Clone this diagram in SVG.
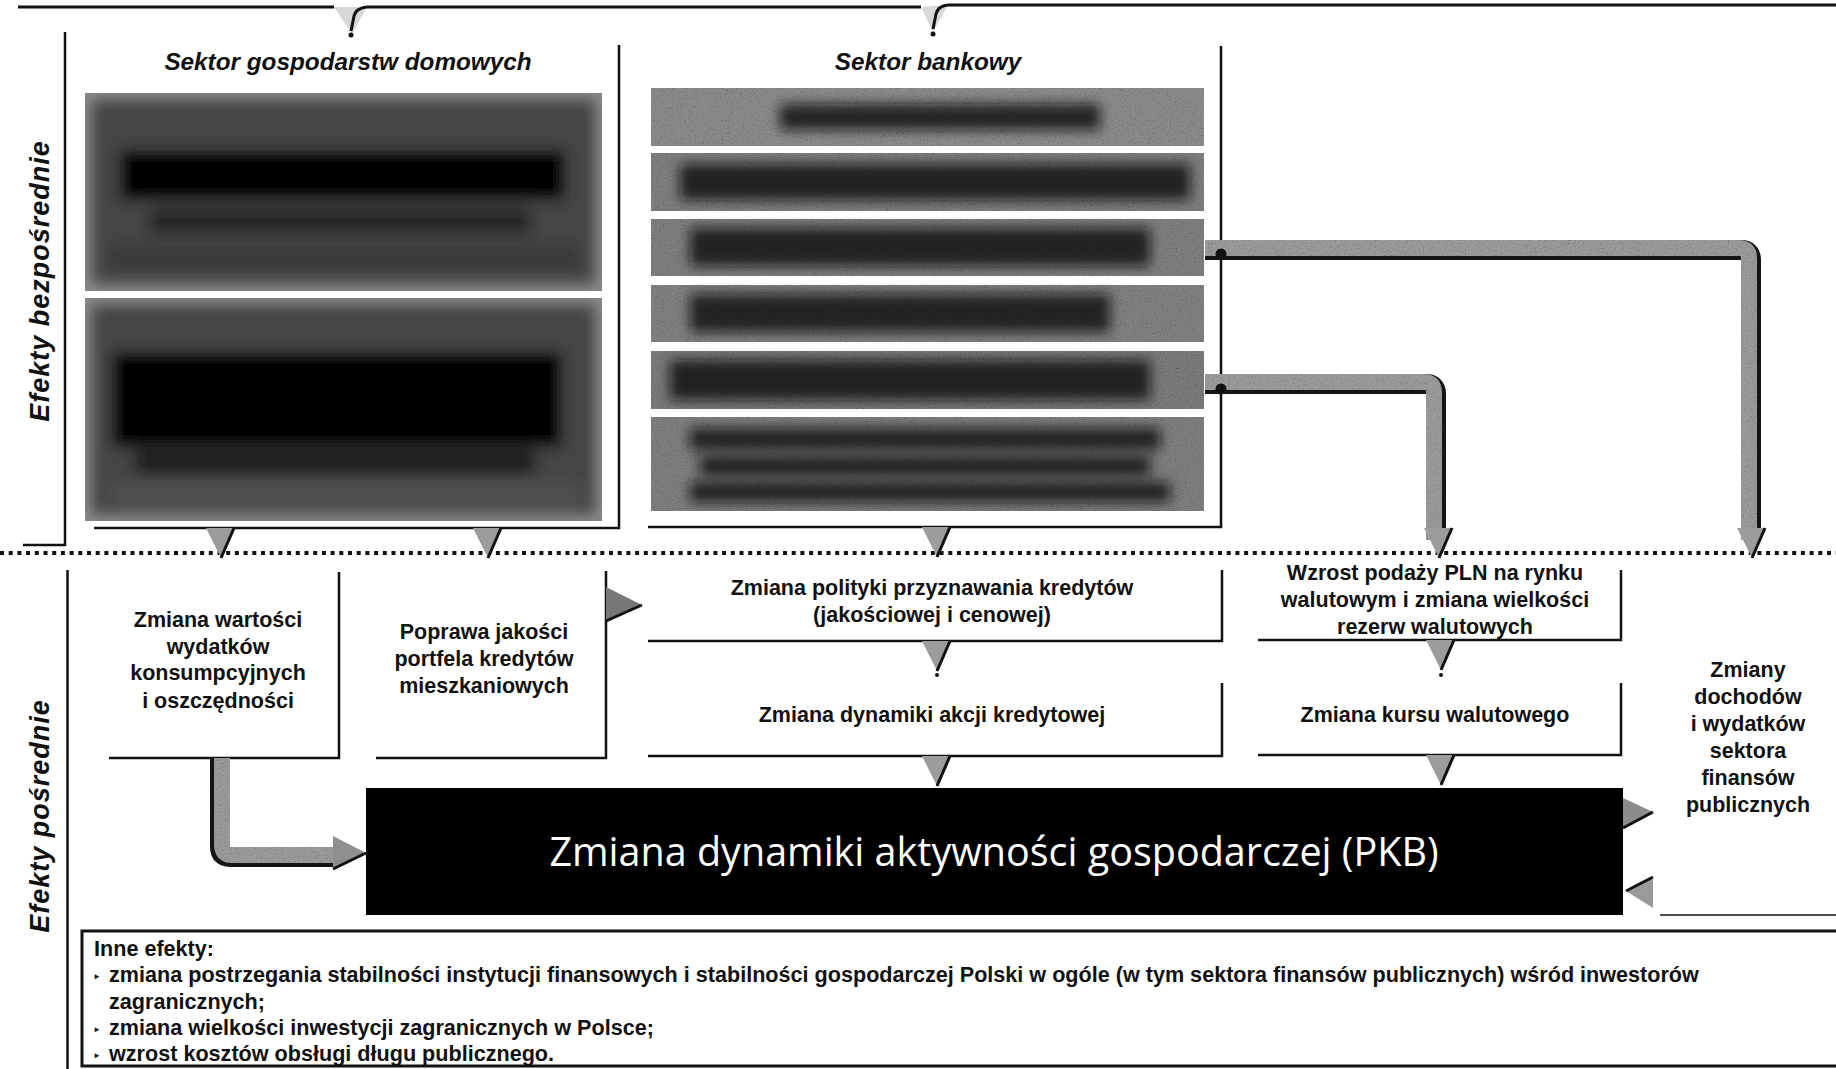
<svg xmlns="http://www.w3.org/2000/svg" width="1836" height="1069" viewBox="0 0 1836 1069">
<style>
  .ln{stroke:#111;fill:none;stroke-width:2.5}
  .lnt{stroke:#111;fill:none;stroke-width:3}
  .bx{font-family:"Liberation Sans",Arial,sans-serif;font-weight:bold;font-size:21.5px;fill:#111;text-anchor:middle}
  .ttl{font-family:"Liberation Sans",Arial,sans-serif;font-weight:bold;font-style:italic;font-size:24.3px;fill:#111;text-anchor:middle}
  .side{font-family:"Liberation Sans",Arial,sans-serif;font-weight:bold;font-style:italic;font-size:27px;fill:#111;text-anchor:middle;letter-spacing:1px}
  .pkb{font-family:"Open Sans","Noto Sans",sans-serif;font-size:39.5px;fill:#fff;text-anchor:middle}
  .inne{font-family:"Liberation Sans",Arial,sans-serif;font-weight:bold;font-size:21.6px;fill:#111}
  .cshadow{stroke:#151515;stroke-width:20;fill:none}
  .cfill{stroke:#9a9a9a;stroke-width:16;fill:none}
  .arrfill{fill:#9c9c9c}
  .arredge{stroke:#111;stroke-width:3;fill:none}
</style>
<defs>
  <filter id="blur" x="-20%" y="-50%" width="140%" height="200%">
    <feGaussianBlur stdDeviation="7"/>
  </filter>
  <filter id="blur2" x="-20%" y="-50%" width="140%" height="200%">
    <feGaussianBlur stdDeviation="6"/>
  </filter>
  <filter id="grain" filterUnits="userSpaceOnUse" x="0" y="0" width="1836" height="1069">
    <feTurbulence type="fractalNoise" baseFrequency="0.6" numOctaves="2" seed="7" result="noise"/>
    <feColorMatrix in="noise" type="saturate" values="0" result="gn"/>
    <feComponentTransfer in="gn" result="gc">
      <feFuncR type="linear" slope="2.2" intercept="-0.15"/>
      <feFuncG type="linear" slope="2.2" intercept="-0.15"/>
      <feFuncB type="linear" slope="2.2" intercept="-0.15"/>
    </feComponentTransfer>
    <feBlend in="SourceGraphic" in2="gc" mode="multiply" result="m"/>
    <feComposite in="m" in2="SourceGraphic" operator="in"/>
  </filter>
  <g id="ad">
    <path d="M-14,0 H14 L1,30 Z" class="arrfill"/>
    <path d="M14,0 L1,30" class="arredge"/>
  </g>
  <clipPath id="hh1"><rect x="85" y="93" width="517" height="198"/></clipPath>
  <clipPath id="hh2"><rect x="85" y="298" width="517" height="223"/></clipPath>
  <clipPath id="bk"><rect x="651" y="88" width="553" height="423"/></clipPath>
</defs>

<rect width="1836" height="1069" fill="#fff"/>

<!-- frame lines -->
<g id="frame">
  <path d="M18,7 H334 M367,7 H921 M948,5 H1836" class="lnt"/>
  <path d="M334,7 L367,7 L352,34 Z" fill="#d8d8d8"/>
  <path d="M367,7 Q356,8 354,16 L351,31" class="lnt"/>
  <circle cx="351" cy="35" r="2.5" fill="#111"/>
  <path d="M921,7 L948,5 L933,32 Z" fill="#d8d8d8"/>
  <path d="M948,5 Q938,6 936,14 L933,29" class="lnt"/>
  <circle cx="933" cy="34" r="2.5" fill="#111"/>
  <path d="M65,32 V545 H23" class="ln"/>
  <path d="M67.5,570 V1069" class="ln"/>
  <line x1="0" y1="553" x2="1836" y2="553" stroke="#111" stroke-width="4" stroke-dasharray="4 4.7"/>
  <text class="side" transform="translate(49,281) rotate(-90)">Efekty bezpośrednie</text>
  <text class="side" transform="translate(49,816) rotate(-90)">Efekty pośrednie</text>
</g>

<!-- Household sector -->
<g id="household">
  <text class="ttl" x="348" y="70">Sektor gospodarstw domowych</text>
  <path d="M619,45 V528 H94" class="ln"/>
  <g clip-path="url(#hh1)">
    <rect x="85" y="93" width="517" height="198" fill="#8a8a8a"/>
    <g filter="url(#blur)">
      <rect x="92" y="100" width="503" height="184" fill="#454545"/>
      <rect x="120" y="150" width="445" height="50" fill="#050505"/>
      <rect x="150" y="208" width="380" height="26" fill="#252525"/>
      <rect x="110" y="245" width="470" height="25" fill="#3a3a3a"/>
    </g>
  </g>
  <g clip-path="url(#hh2)">
    <rect x="85" y="298" width="517" height="223" fill="#8a8a8a"/>
    <g filter="url(#blur)">
      <rect x="92" y="305" width="503" height="209" fill="#454545"/>
      <rect x="112" y="352" width="450" height="95" fill="#050505"/>
      <rect x="135" y="450" width="400" height="24" fill="#1a1a1a"/>
      <rect x="110" y="482" width="470" height="25" fill="#505050"/>
    </g>
  </g>
</g>

<!-- Bank sector -->
<g id="bank">
  <text class="ttl" x="928" y="70">Sektor bankowy</text>
  <path d="M1221,46 V527 H648" class="ln"/>
  <g clip-path="url(#bk)">
    <g filter="url(#grain)">
      <rect x="651" y="88" width="553" height="58" fill="#8a8a8a"/>
      <rect x="651" y="153" width="553" height="58" fill="#7e7e7e"/>
      <rect x="651" y="219" width="553" height="57" fill="#7e7e7e"/>
      <rect x="651" y="285" width="553" height="57" fill="#808080"/>
      <rect x="651" y="351" width="553" height="58" fill="#7a7a7a"/>
      <rect x="651" y="417" width="553" height="94" fill="#7e7e7e"/>
    </g>
    <g filter="url(#blur2)" fill="#111" opacity="0.8">
      <rect x="780" y="104" width="320" height="26"/>
      <rect x="680" y="164" width="510" height="36"/>
      <rect x="690" y="228" width="460" height="38"/>
      <rect x="690" y="294" width="420" height="38"/>
      <rect x="670" y="360" width="480" height="40"/>
      <rect x="690" y="428" width="470" height="22"/>
      <rect x="700" y="456" width="450" height="20"/>
      <rect x="690" y="482" width="480" height="20"/>
    </g>
  </g>
</g>

<!-- Intermediate boxes -->
<g id="box-konsumpcja">
  <path d="M339,572 V758 H109" class="ln"/>
  <text class="bx" x="218" y="627">Zmiana wartości</text>
  <text class="bx" x="218" y="654">wydatków</text>
  <text class="bx" x="218" y="680">konsumpcyjnych</text>
  <text class="bx" x="218" y="708">i oszczędności</text>
</g>
<g id="box-portfel">
  <path d="M606,571 V758 H376" class="ln"/>
  <text class="bx" x="484" y="639">Poprawa jakości</text>
  <text class="bx" x="484" y="666">portfela kredytów</text>
  <text class="bx" x="484" y="693">mieszkaniowych</text>
</g>
<g id="box-polityka">
  <path d="M1222,570 V641 H648" class="ln"/>
  <text class="bx" x="932" y="595">Zmiana polityki przyznawania kredytów</text>
  <text class="bx" x="932" y="622">(jakościowej i cenowej)</text>
</g>
<g id="box-akcja">
  <path d="M1222,683 V756 H648" class="ln"/>
  <text class="bx" x="932" y="722">Zmiana dynamiki akcji kredytowej</text>
</g>
<g id="box-podaz">
  <path d="M1621,570 V640 H1258" class="ln"/>
  <text class="bx" x="1435" y="580">Wzrost podaży PLN na rynku</text>
  <text class="bx" x="1435" y="607">walutowym i zmiana wielkości</text>
  <text class="bx" x="1435" y="634">rezerw walutowych</text>
</g>
<g id="box-kurs">
  <path d="M1621,683 V755 H1258" class="ln"/>
  <text class="bx" x="1435" y="722">Zmiana kursu walutowego</text>
</g>
<g id="box-finanse">
  <path d="M1660,915 H1836" stroke="#111" stroke-width="1.5"/>
  <text class="bx" x="1748" y="677">Zmiany</text>
  <text class="bx" x="1748" y="704">dochodów</text>
  <text class="bx" x="1748" y="731">i wydatków</text>
  <text class="bx" x="1748" y="758">sektora</text>
  <text class="bx" x="1748" y="785">finansów</text>
  <text class="bx" x="1748" y="812">publicznych</text>
</g>

<!-- PKB -->
<g id="pkb">
  <rect x="366" y="788" width="1257" height="127" fill="#000"/>
  <text class="pkb" x="994" y="866">Zmiana dynamiki aktywności gospodarczej (PKB)</text>
</g>

<!-- Other effects -->
<g id="inne">
  <rect x="82" y="931" width="1770" height="135" fill="none" stroke="#111" stroke-width="3"/>
  <text class="inne" x="94" y="956">Inne efekty:</text>
  <text class="inne" x="94" y="982"><tspan font-size="14">‣</tspan><tspan x="109">zmiana postrzegania stabilności instytucji finansowych i stabilności gospodarczej Polski w ogóle (w tym sektora finansów publicznych) wśród inwestorów</tspan></text>
  <text class="inne" x="109" y="1009">zagranicznych;</text>
  <text class="inne" x="94" y="1035"><tspan font-size="14">‣</tspan><tspan x="109">zmiana wielkości inwestycji zagranicznych w Polsce;</tspan></text>
  <text class="inne" x="94" y="1061"><tspan font-size="14">‣</tspan><tspan x="109">wzrost kosztów obsługi długu publicznego.</tspan></text>
</g>

<!-- Connectors -->
<g id="connectors">
  <!-- bank -> public finances -->
  <path d="M1205,250 H1741 Q1751,250 1751,260 V540" class="cshadow"/>
  <path d="M1205,248 H1739 Q1749,248 1749,258 V540" class="cfill" filter="url(#grain)"/>
  <!-- bank -> FX supply -->
  <path d="M1205,384 H1426 Q1436,384 1436,394 V540" class="cshadow"/>
  <path d="M1205,382 H1424 Q1434,382 1434,392 V540" class="cfill" filter="url(#grain)"/>
  <circle cx="1221" cy="254" r="5.5" fill="#111"/>
  <circle cx="1221" cy="389" r="5.5" fill="#111"/>
  <use href="#ad" x="1438" y="528"/>
  <use href="#ad" x="1751" y="528"/>
  <!-- consumption -> PKB -->
  <path d="M220,758 V847 Q220,857 230,857 H336" class="cshadow"/>
  <path d="M222,758 V845 Q222,855 232,855 H336" class="cfill" filter="url(#grain)"/>
  <path d="M333,836 L366,853 L333,869 Z" fill="#8f8f8f"/>
  <path d="M366,853 L333,869" class="arredge"/>
  <!-- down arrows -->
  <use href="#ad" x="220" y="528"/>
  <use href="#ad" x="487" y="528"/>
  <use href="#ad" x="936" y="527"/>
  <use href="#ad" x="936" y="641"/>
  <circle cx="937" cy="675" r="2" fill="#111"/>
  <use href="#ad" x="936" y="756"/>
  <use href="#ad" x="1440" y="640"/>
  <circle cx="1441" cy="675" r="2" fill="#111"/>
  <use href="#ad" x="1440" y="755"/>
  <!-- portfolio -> credit policy -->
  <path d="M606,587 L642,605 L606,621 Z" fill="#777"/>
  <path d="M642,605 L606,621" class="arredge"/>
  <!-- PKB <-> public finances -->
  <path d="M1623,798 L1653,812 L1623,828 Z" fill="#8c8c8c"/>
  <path d="M1653,812 L1623,828" class="arredge"/>
  <path d="M1653,877 L1626,891 L1653,908 Z" fill="#9a9a9a"/>
  <path d="M1626,891 L1653,877" class="arredge"/>
</g>
</svg>
